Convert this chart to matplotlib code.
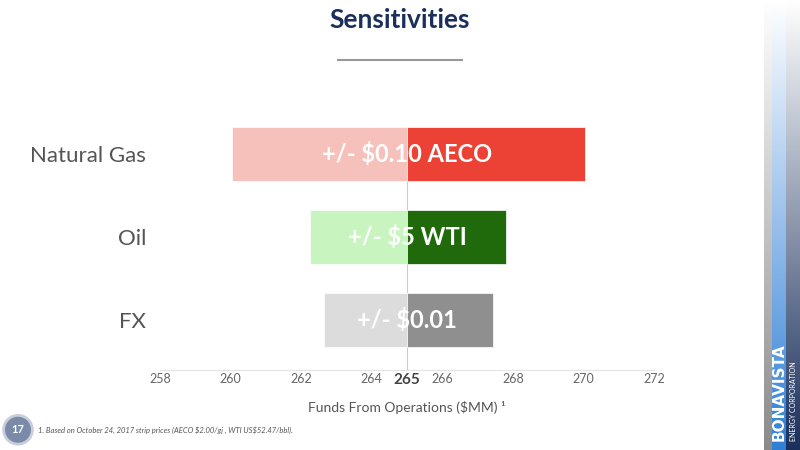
import matplotlib.pyplot as plt
from matplotlib.colors import LinearSegmentedColormap
from matplotlib.patches import Ellipse
import numpy as np

categories = ['Natural Gas', 'Oil', 'FX']
low_vals = [260.05, 262.25, 262.65]
high_vals = [270.05, 267.8, 267.45]
base = 265
labels = ['+/- $0.10 AECO', '+/- $5 WTI', '+/- $0.01']
low_colors = ['#f6c1bb', '#c8f5bf', '#dcdcdc']
high_colors = ['#ec4236', '#216a0c', '#8f8f8f']
ticks = [258, 260, 262, 264, 265, 266, 268, 270, 272]

fig = plt.figure(figsize=(8, 4.5), dpi=100)
ax = fig.add_axes([0.2, 0.178, 0.6175, 0.609])
ypos = np.arange(len(categories))[::-1]
for y, lo, hi, lc, hc, lab in zip(ypos, low_vals, high_vals, low_colors, high_colors, labels):
    ax.barh(y, base - lo, left=lo, height=0.66, color=lc, edgecolor='white', linewidth=0.5)
    ax.barh(y, hi - base, left=base, height=0.66, color=hc, edgecolor='white', linewidth=0.5)
    ax.text(base, y, lab, ha='center', va='center', color='white', fontsize=17,
            fontweight='bold', family='Lato', parse_math=False)
ax.axvline(base, ymax=0.88, color='#cccccc', lw=0.8, zorder=0.5)
ax.set_xlim(258, 272)
ax.set_ylim(-0.6, 2.7)
ax.set_xticks(ticks)
ax.set_xticklabels([str(t) for t in ticks], family='Lato', fontsize=9, color='#666666')
for t in ax.get_xticklabels():
    if t.get_text() == '265':
        t.set_fontweight('bold')
        t.set_fontsize(11)
        t.set_color('#444444')
ax.set_yticks(ypos)
ax.set_yticklabels(categories, family='Lato', fontsize=16, color='#555555')
ax.tick_params(axis='y', length=0, pad=10)
ax.tick_params(axis='x', length=0, pad=2)
for s in ['top', 'right', 'left']:
    ax.spines[s].set_visible(False)
ax.spines['bottom'].set_color('#e4e4e4')
ax.set_xlabel('Funds From Operations ($MM) ¹', family='Lato', fontsize=10,
              color='#555555', labelpad=10, parse_math=False)

fig.text(0.5, 0.955, 'Sensitivities', ha='center', va='center', fontsize=19,
         fontweight='bold', color='#1b2f5c', family='Lato')
fig.add_artist(plt.Line2D([0.422, 0.578], [0.867, 0.867], color='#999999', lw=1.5))
fig.add_artist(Ellipse((0.0225, 0.045), 0.036, 0.064, transform=fig.transFigure,
                       facecolor='#7a8aa8', edgecolor='#c8cfda', lw=2))
fig.text(0.0225, 0.045, '17', ha='center', va='center', color='white', fontsize=8,
         fontweight='bold', family='Lato')
fig.text(0.048, 0.045, '1. Based on October 24, 2017 strip prices (AECO $2.00/gj , WTI US$52.47/bbl).',
         fontsize=5.5, style='italic', color='#555555', family='Lato', va='center',
         parse_math=False)

# side strips, white at top fading into colour at bottom
grad = np.linspace(0, 1, 256).reshape(-1, 1)
strips = [(0.955, 0.01, ['#ffffff', '#8a8a8a']),
          (0.965, 0.018, ['#ffffff', '#2f7fd6']),
          (0.983, 0.017, ['#ffffff', '#1a2f5a'])]
for x0, w, cols in strips:
    sax = fig.add_axes([x0, 0, w, 1])
    cmap = LinearSegmentedColormap.from_list('s', cols)
    sax.imshow(grad, aspect='auto', cmap=cmap, extent=[0, 1, 0, 1])
    sax.axis('off')
fig.text(0.974, 0.02, 'BONAVISTA', rotation=90, color='white', fontsize=11,
         fontweight='bold', family='Liberation Sans Narrow', ha='center', va='bottom')
fig.text(0.992, 0.02, 'ENERGY CORPORATION', rotation=90, color='white', fontsize=5,
         family='Lato', ha='center', va='bottom')

fig.savefig('out.png', dpi=100)
